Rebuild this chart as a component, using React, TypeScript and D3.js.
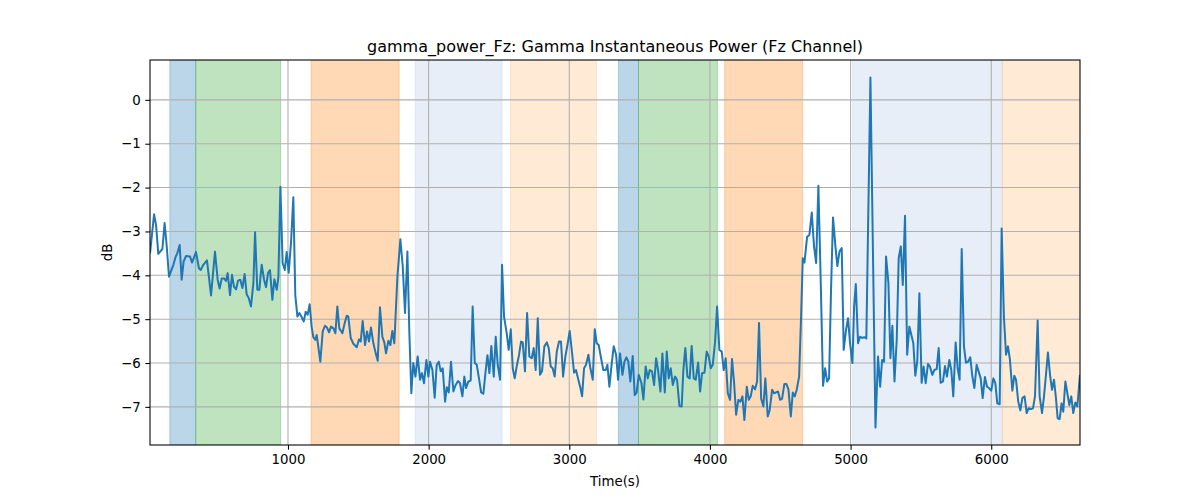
import React, { useEffect, useRef } from 'react';
import * as d3 from 'd3';

// sample times (s) of the Fz gamma power trace
const times = [
    19, 48, 62, 78, 107, 123, 138, 154, 185, 202, 213, 230, 244, 258, 275, 303, 318, 346, 367, 379,
    398, 424, 453, 481, 500, 514, 529, 545, 559, 571, 588, 602, 616, 631, 645, 661, 676, 692, 706, 721,
    737, 754, 766, 782, 796, 813, 830, 844, 858, 872, 889, 903, 920, 932, 946, 962, 977, 991, 1005, 1022,
    1038, 1052, 1067, 1081, 1095, 1112, 1126, 1140, 1154, 1168, 1180, 1195, 1204, 1230, 1247, 1263, 1277, 1292, 1306, 1323,
    1337, 1351, 1365, 1387, 1403, 1418, 1429, 1446, 1465, 1489, 1505, 1517, 1531, 1548, 1562, 1576, 1590, 1607, 1624, 1638,
    1654, 1671, 1685, 1697, 1714, 1728, 1742, 1756, 1778, 1799, 1816, 1832, 1849, 1863, 1877, 1891, 1906, 1922, 1939, 1953,
    1967, 1984, 1998, 2010, 2027, 2043, 2057, 2072, 2086, 2100, 2117, 2129, 2143, 2159, 2176, 2192, 2209, 2223, 2240, 2254,
    2266, 2283, 2299, 2313, 2328, 2342, 2358, 2373, 2389, 2406, 2418, 2432, 2446, 2463, 2477, 2491, 2508, 2522, 2536, 2555,
    2569, 2584, 2598, 2612, 2626, 2643, 2657, 2669, 2685, 2700, 2716, 2733, 2747, 2761, 2776, 2792, 2806, 2823, 2840, 2854,
    2868, 2882, 2896, 2911, 2927, 2941, 2956, 2972, 2989, 3003, 3020, 3034, 3048, 3062, 3077, 3091, 3105, 3119, 3136, 3150,
    3167, 3181, 3195, 3209, 3226, 3242, 3259, 3271, 3285, 3302, 3316, 3333, 3347, 3361, 3378, 3392, 3406, 3420, 3434, 3451,
    3465, 3479, 3494, 3513, 3527, 3543, 3558, 3572, 3588, 3603, 3617, 3631, 3648, 3662, 3679, 3693, 3707, 3721, 3736, 3752,
    3766, 3783, 3799, 3811, 3825, 3840, 3856, 3870, 3885, 3899, 3916, 3930, 3944, 3961, 3977, 3991, 4006, 4020, 4036, 4051,
    4067, 4084, 4098, 4112, 4127, 4143, 4157, 4172, 4186, 4202, 4217, 4231, 4245, 4262, 4276, 4290, 4304, 4321, 4335, 4349,
    4364, 4380, 4394, 4411, 4425, 4442, 4456, 4470, 4484, 4499, 4513, 4529, 4544, 4558, 4575, 4589, 4603, 4617, 4634, 4648,
    4660, 4672, 4691, 4707, 4724, 4740, 4755, 4771, 4788, 4804, 4819, 4833, 4847, 4861, 4875, 4892, 4906, 4921, 4937, 4951,
    4968, 4982, 4996, 5013, 5025, 5037, 5053, 5067, 5082, 5096, 5112, 5141, 5177, 5195, 5210, 5224, 5238, 5252, 5269, 5283,
    5297, 5312, 5328, 5342, 5357, 5371, 5387, 5402, 5418, 5429, 5446, 5460, 5474, 5489, 5505, 5519, 5534, 5550, 5564, 5581,
    5595, 5612, 5626, 5640, 5657, 5671, 5685, 5702, 5716, 5730, 5747, 5761, 5775, 5790, 5806, 5820, 5835, 5851, 5865, 5880,
    5896, 5910, 5925, 5939, 5955, 5970, 5984, 6000, 6015, 6029, 6043, 6060, 6074, 6090, 6105, 6119, 6133, 6150, 6164, 6176,
    6192, 6207, 6221, 6237, 6252, 6266, 6282, 6297, 6311, 6330, 6344, 6361, 6375, 6389, 6403, 6418, 6432, 6446, 6460, 6472,
    6486, 6500, 6512, 6527, 6541, 6555, 6569, 6583, 6598, 6612, 6631,
];

// instantaneous gamma power (dB)
const powerDb = [
    -3.50, -2.61, -2.85, -3.51, -3.40, -2.81, -3.34, -4.03, -3.76, -3.57, -3.50, -3.31, -4.10, -3.69, -3.56, -3.57, -3.71, -3.47, -3.84, -3.88,
    -3.76, -3.66, -4.46, -3.46, -4.10, -4.30, -4.07, -4.07, -4.13, -3.95, -4.45, -3.99, -4.26, -4.32, -4.12, -4.10, -4.29, -3.97, -4.43, -4.52,
    -4.71, -4.18, -3.02, -4.33, -4.33, -3.76, -4.10, -4.27, -3.95, -3.88, -4.56, -4.09, -4.33, -4.03, -1.98, -3.72, -3.88, -3.47, -3.94, -3.23,
    -2.22, -4.45, -4.94, -4.86, -4.94, -5.05, -4.83, -4.90, -4.66, -5.17, -5.41, -5.47, -5.36, -5.97, -5.28, -5.15, -5.19, -5.30, -5.17, -5.21,
    -5.32, -4.71, -5.21, -5.32, -5.09, -4.92, -4.94, -5.43, -5.56, -5.64, -5.46, -5.51, -5.04, -5.59, -5.28, -5.51, -5.19, -5.55, -5.78, -5.95,
    -4.73, -5.40, -5.53, -5.78, -5.49, -5.59, -5.27, -5.55, -4.03, -3.18, -3.80, -4.86, -3.46, -5.32, -6.69, -6.00, -6.31, -5.85, -6.38, -6.23,
    -6.46, -5.93, -6.31, -5.97, -6.16, -6.79, -6.05, -5.97, -6.19, -6.12, -6.88, -6.55, -6.67, -5.97, -6.65, -6.50, -6.41, -6.46, -6.76, -6.31,
    -6.57, -6.42, -6.40, -4.71, -6.00, -6.04, -6.35, -6.67, -6.70, -6.16, -5.82, -6.23, -5.61, -6.31, -5.40, -6.04, -6.38, -3.76, -4.94, -5.32,
    -5.70, -5.23, -6.12, -6.35, -6.08, -5.81, -5.51, -5.53, -6.19, -4.86, -5.85, -5.89, -5.66, -6.16, -4.98, -6.27, -6.19, -5.62, -5.53, -5.66,
    -6.08, -6.12, -6.31, -5.74, -5.51, -5.51, -6.31, -5.85, -5.55, -5.27, -5.78, -6.22, -6.16, -6.35, -6.54, -6.76, -6.12, -6.04, -5.81, -6.12,
    -6.38, -5.23, -5.55, -5.59, -5.89, -6.16, -6.16, -6.04, -6.54, -6.00, -5.62, -5.81, -6.38, -5.78, -6.27, -5.97, -5.87, -5.97, -6.42, -5.84,
    -6.73, -6.67, -6.27, -6.46, -6.83, -6.08, -6.35, -6.16, -6.19, -6.50, -5.89, -6.16, -6.65, -5.78, -6.67, -5.74, -6.35, -6.12, -6.50, -6.31,
    -6.38, -6.98, -6.99, -6.16, -5.66, -6.31, -6.35, -5.61, -6.35, -6.38, -5.99, -6.65, -6.23, -6.22, -5.74, -5.85, -6.12, -6.04, -5.53, -4.71,
    -5.70, -5.74, -6.16, -5.89, -6.69, -6.84, -5.91, -6.46, -7.18, -6.84, -6.88, -6.76, -7.30, -6.54, -6.84, -6.76, -6.52, -6.60, -6.42, -5.09,
    -6.81, -6.99, -6.35, -7.22, -7.07, -6.61, -6.69, -6.67, -6.65, -6.84, -6.81, -6.48, -6.48, -6.60, -7.22, -6.67, -6.76, -6.61, -6.31, -4.94,
    -3.61, -3.71, -3.12, -3.08, -2.57, -3.34, -3.72, -1.96, -4.18, -6.52, -6.12, -6.42, -6.35, -4.33, -2.68, -3.34, -3.79, -3.46, -3.38, -5.70,
    -5.24, -4.98, -5.55, -6.00, -4.71, -4.20, -5.55, -5.40, -5.43, -5.41, -5.44, 0.51, -7.47, -5.85, -6.54, -5.93, -5.97, -3.57, -4.18, -5.89,
    -5.15, -6.42, -5.47, -3.61, -3.34, -4.22, -2.64, -5.81, -5.17, -5.32, -5.55, -6.29, -5.97, -4.41, -6.45, -6.08, -6.46, -6.02, -6.08, -6.27,
    -6.16, -6.14, -5.66, -6.45, -6.42, -6.07, -6.31, -5.93, -6.16, -6.76, -5.53, -6.12, -6.38, -3.40, -5.62, -5.99, -5.97, -5.87, -6.29, -6.57,
    -6.04, -6.19, -6.35, -6.80, -6.32, -6.54, -6.57, -6.63, -6.35, -6.46, -6.92, -6.94, -2.93, -4.94, -5.81, -5.62, -5.93, -6.63, -6.29, -6.38,
    -6.88, -7.08, -6.80, -6.76, -7.14, -7.03, -7.05, -7.03, -6.76, -5.03, -6.76, -7.14, -6.76, -6.27, -5.76, -6.27, -6.61, -6.38, -6.80, -7.26,
    -7.28, -6.92, -7.11, -6.42, -6.69, -6.96, -6.76, -7.14, -6.90, -6.99, -6.27,
];

// shaded condition spans
const spanStarts = [160, 344, 1164, 1905, 2582, 3350, 3492, 4105, 5015, 6078];
const spanEnds = [344, 948, 1790, 2522, 3194, 3492, 4053, 4658, 6078, 6700];
const spanColors = ['#1f77b4', '#2ca02c', '#ff7f0e', '#aec7e8', '#ffbb78', '#1f77b4', '#2ca02c', '#ff7f0e', '#aec7e8', '#ffbb78'];

const xTicks = [1000, 2000, 3000, 4000, 5000, 6000];
const yTicks = [0, -1, -2, -3, -4, -5, -6, -7];

const App: React.FC = () => {
    const svgRef = useRef<SVGSVGElement | null>(null);

    useEffect(() => {
        const svg = d3.select(svgRef.current);
        svg.selectAll("*").remove();

        const width = 1200;
        const height = 500;
        const margin = { top: 60, right: 120, bottom: 55, left: 150 };
        const font = "DejaVu Sans, sans-serif";

        const [tMin, tMax] = d3.extent(times) as [number, number];
        const [vMin, vMax] = d3.extent(powerDb) as [number, number];
        const pad = (vMax - vMin) * 0.05;

        const xScale = d3.scaleLinear()
            .domain([tMin, tMax])
            .range([margin.left, width - margin.right]);

        const yScale = d3.scaleLinear()
            .domain([vMin - pad, vMax + pad])
            .range([height - margin.bottom, margin.top]);

        svg.append("defs").append("clipPath")
            .attr("id", "plot-clip")
            .append("rect")
            .attr("x", margin.left)
            .attr("y", margin.top)
            .attr("width", width - margin.left - margin.right)
            .attr("height", height - margin.top - margin.bottom);

        // spans
        svg.append("g")
            .attr("clip-path", "url(#plot-clip)")
            .selectAll("rect")
            .data(spanStarts.map((s, i) => ({ s, e: spanEnds[i], c: spanColors[i] })))
            .enter()
            .append("rect")
            .attr("x", d => xScale(d.s))
            .attr("y", margin.top)
            .attr("width", d => xScale(d.e) - xScale(d.s))
            .attr("height", height - margin.top - margin.bottom)
            .attr("fill", d => d.c)
            .attr("fill-opacity", 0.3)
            .attr("stroke", d => d.c)
            .attr("stroke-opacity", 0.3)
            .attr("stroke-width", 1);

        // grid
        const grid = svg.append("g");
        grid.selectAll("line.gx")
            .data(xTicks)
            .enter()
            .append("line")
            .attr("x1", d => xScale(d))
            .attr("x2", d => xScale(d))
            .attr("y1", margin.top)
            .attr("y2", height - margin.bottom)
            .attr("stroke", "#b0b0b0")
            .attr("stroke-width", 1.07);
        grid.selectAll("line.gy")
            .data(yTicks)
            .enter()
            .append("line")
            .attr("x1", margin.left)
            .attr("x2", width - margin.right)
            .attr("y1", d => yScale(d))
            .attr("y2", d => yScale(d))
            .attr("stroke", "#b0b0b0")
            .attr("stroke-width", 1.07);

        // trace
        const line = d3.line<number>()
            .x((_, i) => xScale(times[i]))
            .y(d => yScale(d));

        svg.append("path")
            .datum(powerDb)
            .attr("clip-path", "url(#plot-clip)")
            .attr("d", line)
            .attr("fill", "none")
            .attr("stroke", "#1f77b4")
            .attr("stroke-width", 2)
            .attr("stroke-linejoin", "round");

        // frame
        svg.append("rect")
            .attr("x", margin.left)
            .attr("y", margin.top)
            .attr("width", width - margin.left - margin.right)
            .attr("height", height - margin.top - margin.bottom)
            .attr("fill", "none")
            .attr("stroke", "black")
            .attr("stroke-width", 1.07);

        // X axis
        const xAxis = svg.append("g")
            .attr("transform", `translate(0,${height - margin.bottom})`)
            .call(d3.axisBottom(xScale).tickValues(xTicks).tickFormat(d3.format("d")).tickSize(4.67).tickPadding(4.67));
        xAxis.select(".domain").remove();

        // Y axis
        const yAxis = svg.append("g")
            .attr("transform", `translate(${margin.left},0)`)
            .call(d3.axisLeft(yScale).tickValues(yTicks).tickFormat(d3.format("d")).tickSize(4.67).tickPadding(4.67));
        yAxis.select(".domain").remove();

        svg.selectAll(".tick line").attr("stroke", "black").attr("stroke-width", 1.07);
        svg.selectAll(".tick text")
            .attr("fill", "black")
            .style("font-family", font)
            .style("font-size", "13.33px");

        svg.append("text")
            .attr("x", (margin.left + width - margin.right) / 2)
            .attr("y", 52)
            .attr("text-anchor", "middle")
            .style("font-family", font)
            .style("font-size", "16px")
            .text("gamma_power_Fz: Gamma Instantaneous Power (Fz Channel)");

        svg.append("text")
            .attr("x", (margin.left + width - margin.right) / 2)
            .attr("y", 486)
            .attr("text-anchor", "middle")
            .style("font-family", font)
            .style("font-size", "13.33px")
            .text("Time(s)");

        svg.append("text")
            .attr("transform", `translate(112,${(margin.top + height - margin.bottom) / 2}) rotate(-90)`)
            .attr("text-anchor", "middle")
            .style("font-family", font)
            .style("font-size", "13.33px")
            .text("dB");
    }, []);

    return (
        <svg
            ref={svgRef}
            width={1200}
            height={500}
            style={{ position: 'absolute', left: 0, top: 0, background: 'white' }}
        ></svg>
    );
};

export default App;
